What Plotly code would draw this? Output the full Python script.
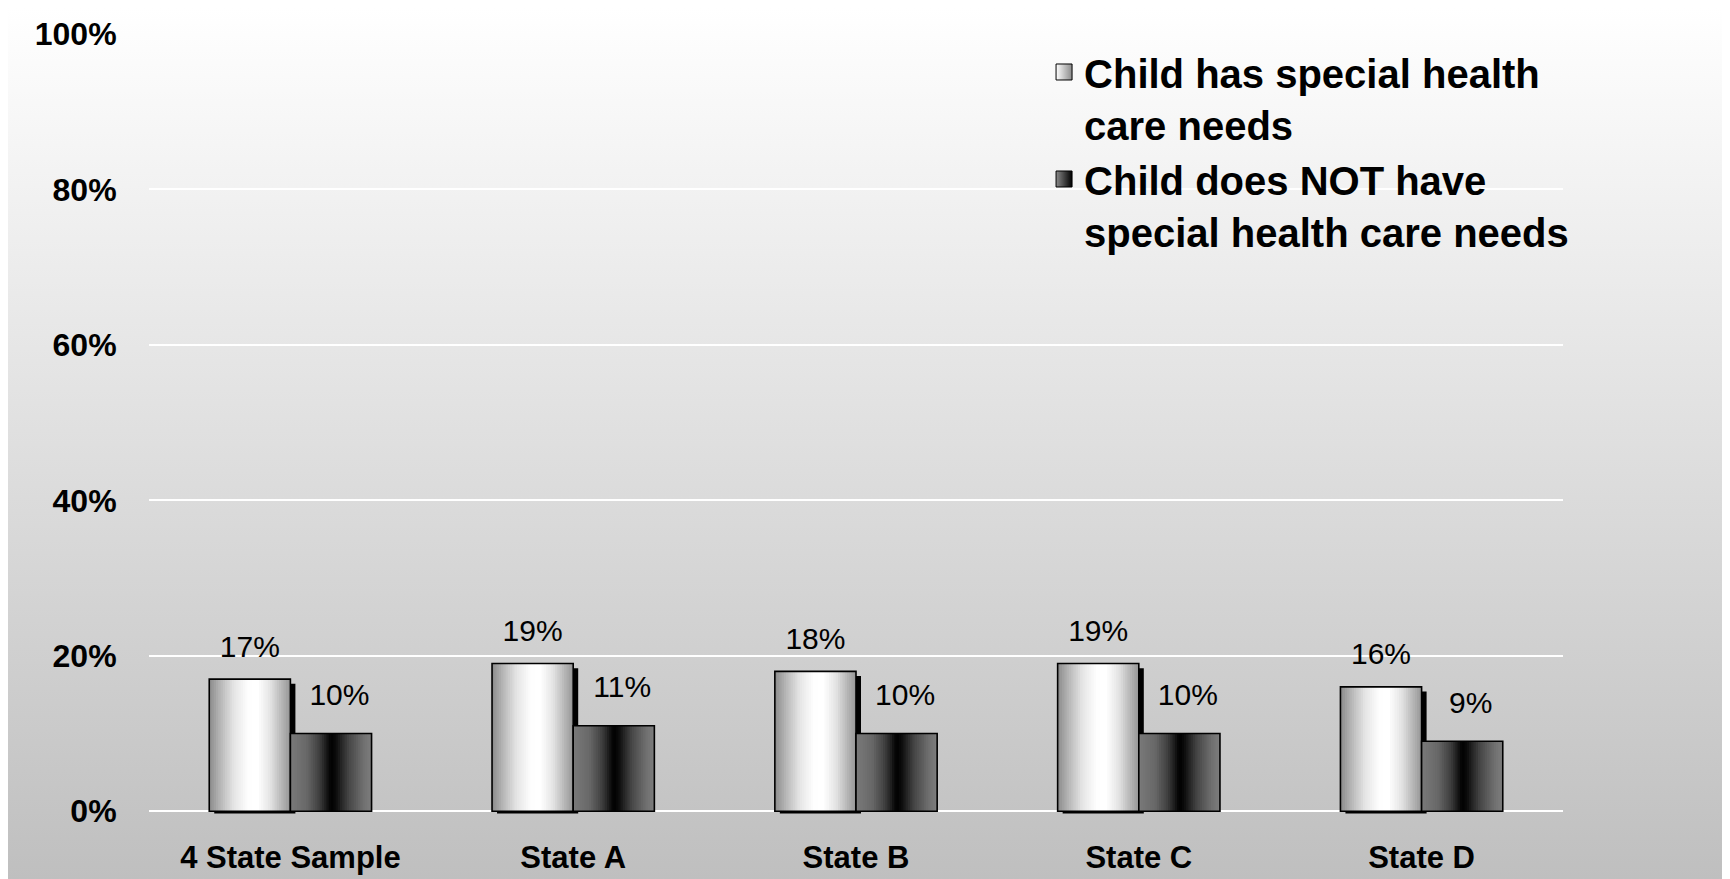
import base64
import plotly.graph_objects as go

# ---------------- data ----------------
categories = ["4 State Sample", "State A", "State B", "State C", "State D"]
shcn_values = [17, 19, 18, 19, 16]          # Child has special health care needs
non_shcn_values = [10, 11, 10, 10, 9]       # Child does NOT have special health care needs
series_names = ["Child has special health<br>care needs",
                "Child does NOT have<br>special health care needs"]
y_tick_values = [0, 20, 40, 60, 80, 100]
y_tick_labels = ["0%", "20%", "40%", "60%", "80%", "100%"]

# ---------------- layout constants ----------------
W_PX, H_PX = 1722, 871
M_L, M_R, M_T, M_B = 141, 167, 26, 60
PLOT_W = W_PX - M_L - M_R
PLOT_H = H_PX - M_T - M_B
FONT = "Liberation Sans, Arial, sans-serif"

BAR_W = 0.287           # width of one bar in category units
N_STRIPES = 36

light_stops = [(0.0, 138), (0.12, 178), (0.3, 228), (0.48, 254), (0.6, 255),
               (0.75, 228), (0.9, 180), (1.0, 150)]
dark_stops = [(0.0, 122), (0.2, 104), (0.36, 62), (0.5, 0), (0.56, 12),
              (0.72, 70), (0.9, 112), (1.0, 126)]


def grey_at(stops, t):
    for (t0, c0), (t1, c1) in zip(stops[:-1], stops[1:]):
        if t0 <= t <= t1:
            f = 0 if t1 == t0 else (t - t0) / (t1 - t0)
            g = int(round(c0 + (c1 - c0) * f))
            return f"rgb({g},{g},{g})"
    g = stops[-1][1]
    return f"rgb({g},{g},{g})"


xpos = list(range(len(categories)))
fig = go.Figure()


def add_gradient_bar(values, start_offset, stops):
    step = BAR_W / N_STRIPES
    for i in range(N_STRIPES):
        off = start_offset + i * step
        wid = min(step * 1.8, BAR_W - i * step)
        fig.add_trace(go.Bar(
            x=xpos, y=values, offset=off, width=wid,
            marker=dict(color=grey_at(stops, (i + 0.5) / N_STRIPES), line=dict(width=0)),
            showlegend=False, hoverinfo="skip"))
    fig.add_trace(go.Bar(
        x=xpos, y=values, offset=start_offset, width=BAR_W,
        marker=dict(color="rgba(0,0,0,0)", line=dict(color="black", width=1.6)),
        showlegend=False, hoverinfo="skip"))


# shadow of the light bars
shadow_dx = 5 / (PLOT_W / 5)
fig.add_trace(go.Bar(
    x=xpos, y=[v - 0.3 for v in shcn_values], base=-0.3,
    offset=-BAR_W + shadow_dx, width=BAR_W,
    marker=dict(color="black", line=dict(width=0)),
    showlegend=False, hoverinfo="skip"))

add_gradient_bar(shcn_values, -BAR_W, light_stops)
add_gradient_bar(non_shcn_values, 0.0, dark_stops)

# data labels
fig.add_trace(go.Scatter(
    x=[p - BAR_W / 2 for p in xpos], y=[v + 3.85 for v in shcn_values],
    mode="text", text=[f"{v}%" for v in shcn_values], textposition="middle center",
    textfont=dict(family=FONT, size=30, color="black"),
    showlegend=False, hoverinfo="skip"))
fig.add_trace(go.Scatter(
    x=[p + BAR_W / 2 + 0.03 for p in xpos], y=[v + 4.6 for v in non_shcn_values],
    mode="text", text=[f"{v}%" for v in non_shcn_values], textposition="middle center",
    textfont=dict(family=FONT, size=30, color="black"),
    showlegend=False, hoverinfo="skip"))

# legend entries
fig.add_trace(go.Scatter(
    x=[None], y=[None], mode="markers", name=series_names[0], legendgroup="g1",
    marker=dict(symbol="square", size=16, color="#ffffff",
                gradient=dict(type="horizontal", color="#8a8a8a"),
                line=dict(color="black", width=1))))
fig.add_trace(go.Scatter(
    x=[None], y=[None], mode="markers", name=series_names[1], legendgroup="g2",
    marker=dict(symbol="square", size=16, color="#8a8a8a",
                gradient=dict(type="horizontal", color="#000000"),
                line=dict(color="black", width=1))))

# background gradient
svg = (f'<svg xmlns="http://www.w3.org/2000/svg" width="{W_PX}" height="{H_PX}" '
       f'viewBox="0 0 {W_PX} {H_PX}" preserveAspectRatio="none">'
       '<defs><linearGradient id="g" x1="0" y1="0" x2="0" y2="1">'
       '<stop offset="0" stop-color="#ffffff"/><stop offset="1" stop-color="#bfbfbf"/>'
       '</linearGradient></defs>'
       f'<rect width="{W_PX}" height="{H_PX}" fill="url(#g)"/></svg>')
bg_src = "data:image/svg+xml;base64," + base64.b64encode(svg.encode()).decode()

fig.update_layout(
    template="none",
    width=W_PX, height=H_PX,
    margin=dict(l=M_L, r=M_R, t=M_T, b=M_B, pad=0),
    paper_bgcolor="white", plot_bgcolor="rgba(0,0,0,0)",
    barmode="overlay",
    images=[dict(source=bg_src, xref="paper", yref="paper",
                 x=-M_L / PLOT_W, y=1 + M_T / PLOT_H,
                 sizex=W_PX / PLOT_W, sizey=H_PX / PLOT_H,
                 xanchor="left", yanchor="top", sizing="stretch", layer="below")],
    xaxis=dict(range=[-0.5, len(categories) - 0.5], tickmode="array", tickvals=xpos,
               ticktext=categories, showgrid=False, zeroline=False, showline=False,
               ticks="outside", ticklen=11, tickcolor="rgba(0,0,0,0)",
               tickfont=dict(family=FONT, size=31, color="black", weight="bold"),
               automargin=False, fixedrange=True),
    yaxis=dict(range=[-1, 100], tickmode="array", tickvals=y_tick_values,
               ticktext=y_tick_labels, showgrid=True, gridcolor="white", gridwidth=1.6,
               zeroline=False, showline=False,
               ticks="outside", ticklen=25, tickcolor="rgba(0,0,0,0)",
               tickfont=dict(family=FONT, size=32, color="black", weight="bold"),
               automargin=False, fixedrange=True),
    legend=dict(x=0.633, y=0.993, xanchor="left", yanchor="top", valign="top",
                bgcolor="rgba(0,0,0,0)", borderwidth=0, tracegroupgap=0,
                font=dict(family=FONT, size=40, color="black", weight="bold"),
                itemsizing="trace"),
    showlegend=True,
)

fig.write_html("out.html")
